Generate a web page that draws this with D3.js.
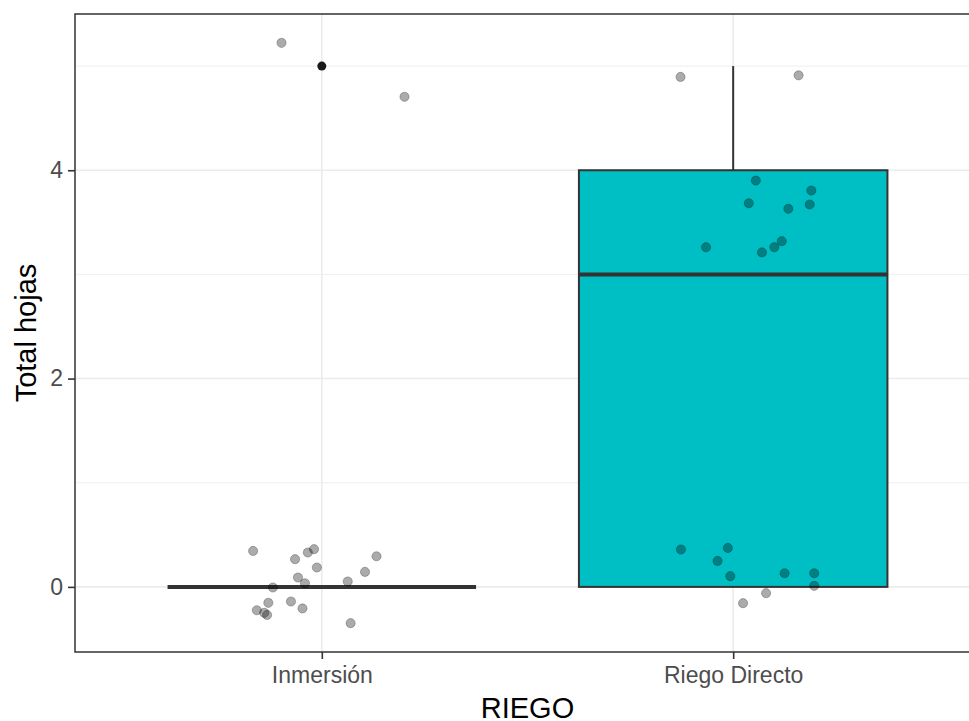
<!DOCTYPE html>
<html>
<head>
<meta charset="utf-8">
<script src="https://cdn.jsdelivr.net/npm/d3@7"></script>
<style>
  html, body { margin: 0; padding: 0; background: #fff; }
  svg { display: block; }
  text { font-family: "Liberation Sans", Arial, sans-serif; }
</style>
</head>
<body>
<script>
// ---- data ----
const categories = ["Inmersión", "Riego Directo"];
const boxFills = ["#F8766D", "#00BFC4"];
const boxQ1 = [0, 0];
const boxMedian = [0, 3];
const boxQ3 = [0, 4];
const whiskerLow = [0, 0];
const whiskerHigh = [0, 5];
const outliers = [[5], []];

// jittered points: offset (in category units) and value
const inmersionOffset = [-0.167, -0.065, -0.034, -0.019, -0.012, 0.133, 0.105, -0.058, -0.041, -0.119,
                         0.063, -0.130, -0.158, -0.140, -0.133, -0.075, -0.047, 0.070, -0.098, 0.201];
const inmersionValue  = [0.345, 0.266, 0.330, 0.362, 0.186, 0.294, 0.144, 0.090, 0.035, -0.006,
                         0.052, -0.153, -0.224, -0.249, -0.269, -0.140, -0.207, -0.348, 5.223, 4.705];
const riegoOffset = [-0.127, -0.013, -0.038, -0.007, 0.125, 0.197, 0.197, 0.080, 0.024, 0.055,
                     0.190, 0.038, 0.134, 0.186, -0.066, 0.070, 0.100, 0.118, -0.128, 0.159];
const riegoValue  = [0.359, 0.374, 0.249, 0.103, 0.131, 0.131, 0.010, -0.060, -0.156, 3.901,
                     3.805, 3.683, 3.630, 3.671, 3.261, 3.211, 3.261, 3.319, 4.896, 4.911];

const yMajorTicks = [0, 2, 4];
const yMinorTicks = [1, 3, 5];
const xLabel = "RIEGO";
const yLabel = "Total hojas";

// ---- layout ----
const W = 969, H = 721;
const panel = { left: 75, top: 14, right: 980, bottom: 652 };

const svg = d3.select("body").append("svg").attr("width", W).attr("height", H);

const x = d3.scalePoint().domain(categories).range([panel.left, panel.right]).padding(0.6);
const step = x.step();
const y = d3.scaleLinear().domain([-0.625, 5.5]).range([panel.bottom, panel.top]);

const clip = svg.append("defs").append("clipPath").attr("id", "pclip")
  .append("rect").attr("x", panel.left).attr("y", panel.top)
  .attr("width", panel.right - panel.left).attr("height", panel.bottom - panel.top);

const g = svg.append("g").attr("clip-path", "url(#pclip)");

// grid
g.selectAll(".minor").data(yMinorTicks).enter().append("line")
  .attr("x1", panel.left).attr("x2", panel.right)
  .attr("y1", d => y(d)).attr("y2", d => y(d))
  .attr("stroke", "#EBEBEB").attr("stroke-width", 0.8);
g.selectAll(".major").data(yMajorTicks).enter().append("line")
  .attr("x1", panel.left).attr("x2", panel.right)
  .attr("y1", d => y(d)).attr("y2", d => y(d))
  .attr("stroke", "#EBEBEB").attr("stroke-width", 1.6);
g.selectAll(".vmajor").data(categories).enter().append("line")
  .attr("x1", d => x(d)).attr("x2", d => x(d))
  .attr("y1", panel.top).attr("y2", panel.bottom)
  .attr("stroke", "#EBEBEB").attr("stroke-width", 1.6);

// boxplots
const half = 0.375 * step;
categories.forEach((c, i) => {
  const cx = x(c);
  const col = "#333333";
  // whiskers
  if (whiskerHigh[i] > boxQ3[i]) {
    g.append("line").attr("x1", cx).attr("x2", cx)
      .attr("y1", y(boxQ3[i])).attr("y2", y(whiskerHigh[i]))
      .attr("stroke", col).attr("stroke-width", 2);
  }
  if (whiskerLow[i] < boxQ1[i]) {
    g.append("line").attr("x1", cx).attr("x2", cx)
      .attr("y1", y(boxQ1[i])).attr("y2", y(whiskerLow[i]))
      .attr("stroke", col).attr("stroke-width", 2);
  }
  g.append("rect")
    .attr("x", cx - half).attr("width", 2 * half)
    .attr("y", y(boxQ3[i])).attr("height", y(boxQ1[i]) - y(boxQ3[i]))
    .attr("fill", boxFills[i]).attr("stroke", col).attr("stroke-width", 2);
  g.append("line")
    .attr("x1", cx - half).attr("x2", cx + half)
    .attr("y1", y(boxMedian[i])).attr("y2", y(boxMedian[i]))
    .attr("stroke", col).attr("stroke-width", 4);
  outliers[i].forEach(v => {
    g.append("circle").attr("cx", cx).attr("cy", y(v)).attr("r", 4.5).attr("fill", "#1a1a1a");
  });
});

// jittered points
function drawPoints(cat, offs, vals) {
  g.selectAll(null).data(vals).enter().append("circle")
    .attr("cx", (d, j) => x(cat) + offs[j] * step)
    .attr("cy", d => y(d))
    .attr("r", 4.6)
    .attr("fill", "rgba(0,0,0,0.33)")
    .attr("stroke", "rgba(0,0,0,0.25)")
    .attr("stroke-width", 1);
}
drawPoints(categories[0], inmersionOffset, inmersionValue);
drawPoints(categories[1], riegoOffset, riegoValue);

// panel border
svg.append("rect")
  .attr("x", panel.left).attr("y", panel.top)
  .attr("width", panel.right - panel.left).attr("height", panel.bottom - panel.top)
  .attr("fill", "none").attr("stroke", "#333333").attr("stroke-width", 1.5);

// axes
const yAxis = svg.append("g").attr("transform", `translate(${panel.left},0)`)
  .call(d3.axisLeft(y).tickValues(yMajorTicks).tickSize(7).tickPadding(5).tickFormat(d3.format("d")));
yAxis.select(".domain").remove();
yAxis.selectAll("line").attr("stroke", "#333333").attr("stroke-width", 1.6);
yAxis.selectAll("text").attr("fill", "#4D4D4D").style("font-size", "23px")
  .attr("font-family", "Liberation Sans, Arial, sans-serif");

const xAxis = svg.append("g").attr("transform", `translate(0,${panel.bottom})`)
  .call(d3.axisBottom(x).tickSize(7).tickPadding(8));
xAxis.select(".domain").remove();
xAxis.selectAll("line").attr("stroke", "#333333").attr("stroke-width", 1.6);
xAxis.selectAll("text").attr("fill", "#4D4D4D").style("font-size", "23px")
  .attr("font-family", "Liberation Sans, Arial, sans-serif");

// titles
svg.append("text")
  .attr("x", (panel.left + panel.right) / 2).attr("y", 717.5)
  .attr("text-anchor", "middle").style("font-size", "29px").attr("fill", "#000")
  .text(xLabel);
svg.append("text")
  .attr("transform", `translate(36,${(panel.top + panel.bottom) / 2}) rotate(-90)`)
  .attr("text-anchor", "middle").style("font-size", "29px").attr("fill", "#000")
  .text(yLabel);
</script>
</body>
</html>
